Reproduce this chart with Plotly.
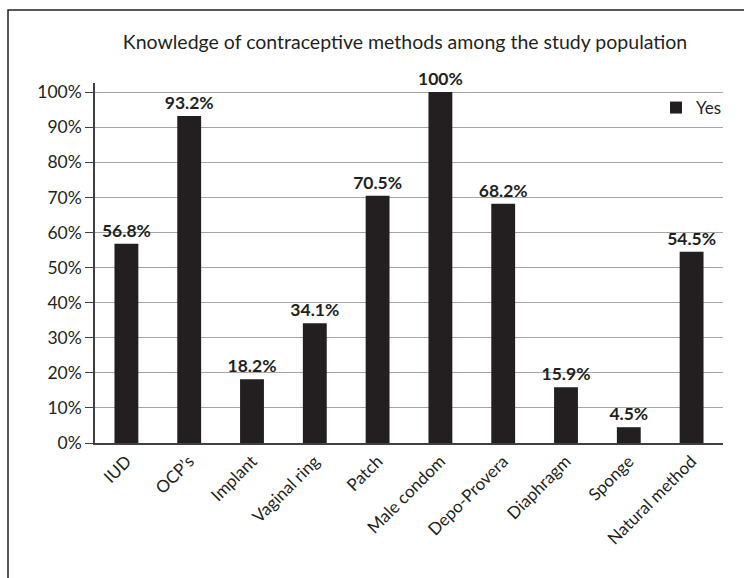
import plotly.graph_objects as go

categories = ["IUD", "OCP\u2019s", "Implant", "Vaginal ring", "Patch", "Male condom",
              "Depo-Provera", "Diaphragm", "Sponge", "Natural method"]
yes_values = [56.8, 93.2, 18.2, 34.1, 70.5, 100, 68.2, 15.9, 4.5, 54.5]
labels = [f"{v:g}%" for v in yes_values]
y_ticks = [0, 10, 20, 30, 40, 50, 60, 70, 80, 90, 100]

FONT = "Lato"
fig = go.Figure()
fig.add_trace(go.Bar(
    x=categories,
    y=[v / 100 for v in yes_values],
    name="Yes",
    marker=dict(color="#231f20", line=dict(width=0)),
    text=labels,
    textposition="outside",
    textfont=dict(family=FONT, size=17.5, color="#231f20", weight="bold"),
    cliponaxis=False,
    showlegend=True,
))

fig.update_layout(
    width=744, height=578,
    margin=dict(l=95, r=21, t=83, b=135),
    paper_bgcolor="white", plot_bgcolor="white",
    bargap=0.62,
    uniformtext=dict(minsize=17.5, mode="show"),
    title=dict(text="Knowledge of contraceptive methods among the study population",
               x=405 / 744, xanchor="center", y=1 - 42 / 578, yanchor="middle",
               font=dict(family=FONT, size=19.5, color="#231f20")),
    font=dict(family=FONT, color="#231f20"),
    legend=dict(x=(656 - 95) / 628, y=(443 - 90) / 360, xanchor="left", yanchor="top",
                font=dict(family=FONT, size=17, color="#231f20"),
                bgcolor="rgba(0,0,0,0)", itemwidth=30),
    xaxis=dict(
        tickangle=-45, tickfont=dict(family=FONT, size=17, color="#231f20"),
        showline=True, linecolor="#404040", linewidth=1.5,
        showgrid=False, ticks="", range=[-0.5, 9.5],
    ),
    yaxis=dict(
        range=[0, 1.026], tickvals=[t / 100 for t in y_ticks],
        ticktext=[f"{t}%" for t in y_ticks],
        tickfont=dict(family=FONT, size=17.5, color="#231f20"),
        showline=True, linecolor="#404040", linewidth=1.5,
        ticks="outside", ticklen=8, tickcolor="#404040", tickwidth=1.2,
        showgrid=True, gridcolor="#a6a6a6", gridwidth=1.2,
        zeroline=False,
    ),
    shapes=[dict(type="rect", xref="paper", yref="paper",
                 x0=(8 - 95) / 628, x1=(760 - 95) / 628,
                 y0=(443 - 600) / 360, y1=(443 - 10) / 360,
                 line=dict(color="#231f20", width=1.5), layer="below")],
)

fig.write_html("out.html", config={"displayModeBar": False},
               post_script="document.body.style.margin='0px';")
